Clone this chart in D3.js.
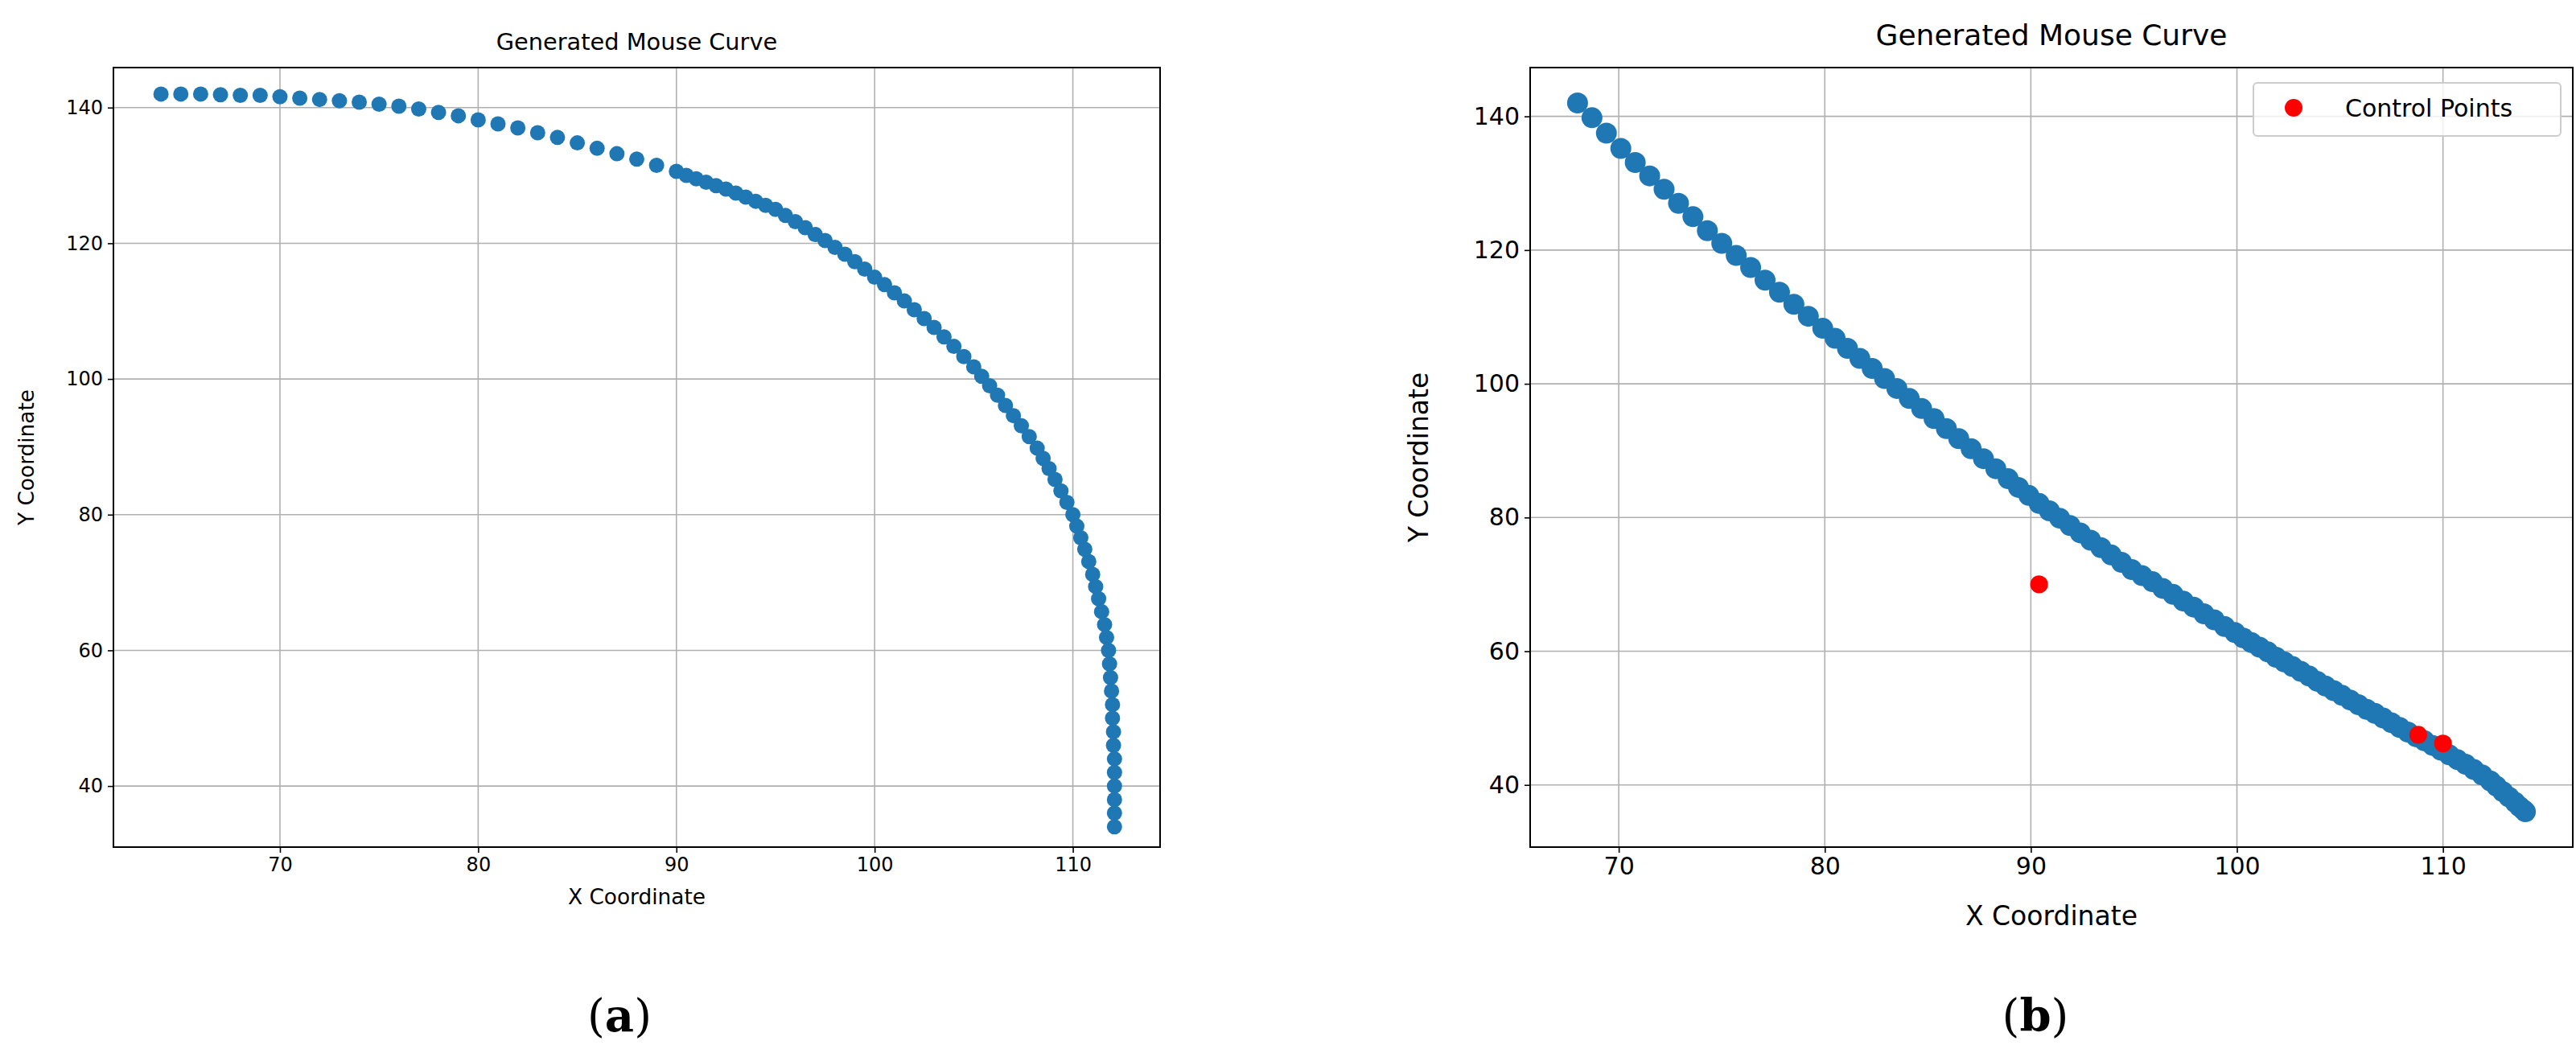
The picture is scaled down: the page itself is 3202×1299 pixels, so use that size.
<!DOCTYPE html>
<html><head><meta charset="utf-8">
<script src="https://cdn.jsdelivr.net/npm/d3@7"></script>
<style>body{margin:0;background:#fff}</style></head>
<body><svg id="c" width="3202" height="1299"></svg>
<script>
const xTicks=[70,80,90,100,110];
const yTicks=[40,60,80,100,120,140];
const curveA=[[64,142],[65,142],[66,142],[67,141.9],[68,141.8],[69,141.8],[70,141.6],[71,141.4],[72,141.2],[73,141],[74,140.8],[75,140.5],[76,140.2],[77,139.8],[78,139.3],[79,138.8],[80,138.2],[81,137.6],[82,137],[83,136.3],[84,135.6],[85,134.8],[86,134],[87,133.2],[88,132.4],[89,131.5],[90,130.6],[90.5,130],[91,129.5],[91.5,129],[92,128.5],[92.5,128],[93,127.4],[93.5,126.8],[94,126.2],[94.5,125.6],[95,125],[95.5,124.1],[96,123.2],[96.5,122.3],[97,121.3],[97.5,120.4],[98,119.4],[98.5,118.4],[99,117.3],[99.5,116.2],[100,115],[100.5,113.9],[101,112.7],[101.5,111.5],[102,110.2],[102.5,108.9],[103,107.6],[103.5,106.2],[104,104.8],[104.5,103.3],[105,101.8],[105.4,100.4],[105.8,99],[106.2,97.6],[106.6,96.1],[107,94.6],[107.4,93.1],[107.8,91.5],[108.2,89.8],[108.5,88.3],[108.8,86.8],[109.1,85.2],[109.4,83.5],[109.7,81.8],[110,80],[110.2,78.3],[110.4,76.6],[110.6,74.9],[110.8,73.1],[111,71.2],[111.15,69.4],[111.3,67.6],[111.45,65.7],[111.6,63.8],[111.7,61.9],[111.8,60],[111.85,58],[111.9,56],[111.95,54],[112,52],[112,50],[112.05,48],[112.05,46],[112.1,44],[112.1,42],[112.1,40],[112.1,38],[112.1,36],[112.1,34]];
const curveB=[[68,142],[68.7,139.8],[69.4,137.5],[70.1,135.2],[70.8,133.1],[71.5,131.1],[72.2,129.1],[72.9,127],[73.6,125],[74.3,122.9],[75,121],[75.7,119.2],[76.4,117.4],[77.1,115.5],[77.8,113.7],[78.5,111.9],[79.2,110.1],[79.9,108.3],[80.5,106.8],[81.1,105.3],[81.7,103.8],[82.3,102.3],[82.9,100.8],[83.5,99.3],[84.1,97.8],[84.7,96.3],[85.3,94.8],[85.9,93.3],[86.5,91.8],[87.1,90.3],[87.7,88.8],[88.3,87.3],[88.9,85.8],[89.4,84.5],[89.9,83.3],[90.4,82.1],[90.9,81],[91.4,79.9],[91.9,78.8],[92.4,77.7],[92.9,76.6],[93.4,75.5],[93.9,74.4],[94.4,73.3],[94.9,72.2],[95.4,71.3],[95.9,70.4],[96.4,69.4],[96.9,68.5],[97.4,67.5],[97.9,66.6],[98.4,65.6],[98.9,64.7],[99.4,63.7],[99.9,62.8],[100.3,62],[100.7,61.3],[101.1,60.6],[101.5,59.9],[101.9,59.1],[102.3,58.4],[102.7,57.7],[103.1,57],[103.5,56.3],[103.9,55.5],[104.3,54.8],[104.7,54.1],[105.1,53.4],[105.5,52.7],[105.9,52],[106.3,51.3],[106.7,50.7],[107.1,50],[107.5,49.3],[107.9,48.6],[108.3,47.9],[108.7,47.2],[109.1,46.6],[109.5,45.9],[109.9,45.2],[110.3,44.5],[110.7,43.8],[111.1,43.1],[111.5,42.3],[111.9,41.5],[112.3,40.6],[112.6,39.8],[112.9,39],[113.2,38.2],[113.5,37.4],[113.7,36.8],[113.9,36.3],[114,36]];
const controlB=[[90.4,70],[108.8,47.5],[110,46.2]];

const svg=d3.select("#c");
const F="DejaVu Sans, sans-serif";
function panel(o){
  const g=svg.append("g");
  const x=d3.scaleLinear().domain(o.xd).range([o.l,o.r]);
  const y=d3.scaleLinear().domain(o.yd).range([o.b,o.t]);
  g.selectAll(".gx").data(xTicks).join("line").attr("x1",x).attr("x2",x).attr("y1",o.t).attr("y2",o.b).attr("stroke","#b0b0b0").attr("stroke-width",1.6);
  g.selectAll(".gy").data(yTicks).join("line").attr("y1",y).attr("y2",y).attr("x1",o.l).attr("x2",o.r).attr("stroke","#b0b0b0").attr("stroke-width",1.6);
  const ax=g.append("g").attr("transform",`translate(0,${o.b})`).call(d3.axisBottom(x).tickValues(xTicks).tickSize(7).tickPadding(6).tickFormat(d3.format("d")));
  const ay=g.append("g").attr("transform",`translate(${o.l},0)`).call(d3.axisLeft(y).tickValues(yTicks).tickSize(7).tickPadding(6).tickFormat(d3.format("d")));
  [ax,ay].forEach(a=>{a.select(".domain").remove();a.selectAll("line").attr("stroke","#000").attr("stroke-width",1.6);a.selectAll("text").attr("font-family",F).attr("font-size",o.fs).attr("fill","#000");});
  g.selectAll(".pt").data(o.data).join("circle").attr("cx",d=>x(d[0])).attr("cy",d=>y(d[1])).attr("r",o.rad).attr("fill","#1f77b4");
  if(o.ctrl) g.selectAll(".cp").data(o.ctrl).join("circle").attr("cx",d=>x(d[0])).attr("cy",d=>y(d[1])).attr("r",o.rad*0.85).attr("fill","red");
  g.append("rect").attr("x",o.l).attr("y",o.t).attr("width",o.r-o.l).attr("height",o.b-o.t).attr("fill","none").attr("stroke","#000").attr("stroke-width",2);
  const cx=(o.l+o.r)/2;
  g.append("text").attr("x",cx).attr("y",o.ty).attr("text-anchor","middle").attr("font-family",F).attr("font-size",o.fs*1.2).text("Generated Mouse Curve");
  g.append("text").attr("x",cx).attr("y",o.xly).attr("text-anchor","middle").attr("font-family",F).attr("font-size",o.fs*1.1).text("X Coordinate");
  g.append("text").attr("transform",`translate(${o.ylx},${(o.t+o.b)/2}) rotate(-90)`).attr("text-anchor","middle").attr("font-family",F).attr("font-size",o.fs*1.1).text("Y Coordinate");
  g.append("text").attr("x",o.capx).attr("y",1280).attr("text-anchor","middle").attr("font-family","Liberation Serif, serif").attr("font-size",60).text("(").append("tspan").attr("font-weight","bold").text(o.cap).clone?.call;
  return {g,x,y};
}
function cap(x,l){const t=svg.append("text").attr("x",x).attr("y",1282).attr("text-anchor","middle").attr("font-family","DejaVu Serif, serif").attr("font-size",56);t.append("tspan").text("(");t.append("tspan").attr("font-weight","bold").text(l);t.append("tspan").text(")");}
panel({xd:[61.6,114.4],yd:[31,145.9],l:141,r:1442,t:84,b:1053,fs:24,rad:9.5,data:curveA,ty:62,xly:1124,ylx:42,capx:-9999,cap:""});
const pb=panel({xd:[65.7,116.3],yd:[30.7,147.3],l:1902,r:3198,t:84,b:1053,fs:30,rad:13,data:curveB,ctrl:controlB,ty:56,xly:1150,ylx:1775,capx:-9999,cap:""});
svg.selectAll("text").filter(function(){return +this.getAttribute("x")===-9999}).remove();
cap(770,"a");cap(2530,"b");
// legend
const lg=svg.append("g");
lg.append("rect").attr("x",2801).attr("y",103).attr("width",382).attr("height",66).attr("rx",5).attr("fill","#fff").attr("fill-opacity",0.8).attr("stroke","#ccc").attr("stroke-width",2);
lg.append("circle").attr("cx",2851).attr("cy",134).attr("r",11).attr("fill","red");
lg.append("text").attr("x",2915).attr("y",145).attr("font-family",F).attr("font-size",30).text("Control Points");
</script></body></html>
